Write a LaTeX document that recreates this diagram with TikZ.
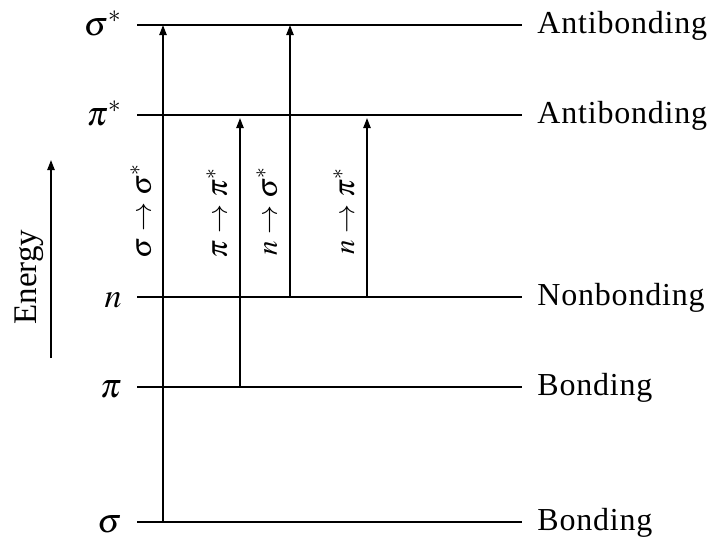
\documentclass[tikz,border=0pt]{standalone}
\usepackage{mathptmx}
\usepackage{fontspec}
\setmainfont{Liberation Serif}
\usetikzlibrary{arrows.meta}
\tikzset{
  level/.style={line width=1pt},
  trans/.style={line width=0.9pt,-{Triangle[length=5pt,width=3.6pt]}},
  rlab/.style={anchor=base west,inner sep=0pt,font=\fontsize{16}{18}\selectfont\addfontfeature{LetterSpace=2.5}},
  llab/.style={anchor=base east,inner sep=0pt,font=\fontsize{17}{19}\selectfont},
  tlab/.style={rotate=90,inner sep=0pt,font=\fontsize{14.5}{16}\selectfont},
  elab/.style={rotate=90,inner sep=0pt,font=\fontsize{16.5}{18}\selectfont}
}
\begin{document}
\begin{tikzpicture}[x=0.5pt,y=-0.5pt]
\useasboundingbox (0,0) rectangle (712,537);
% level lines
\foreach \nm/\yy in {ss/25,ps/115,nn/297,pp/387,sg/522}{
  \coordinate (\nm L) at (137,\yy);
  \coordinate (\nm R) at (522,\yy);
  \draw[level] (\nm L) -- (\nm R);
}
% left labels
\node[llab] (lss) at (122,35) {$\sigma^*$};
\node[llab] (lps) at (122,125) {$\pi^*$};
\node[llab] (lnn) at (122,307) {$n$};
\node[llab] (lpp) at (122,397) {$\pi$};
\node[llab] (lsg) at (122,532) {$\sigma$};
% right labels
\node[rlab] (rss) at (537,33) {Antibonding};
\node[rlab] (rps) at (537,123) {Antibonding};
\node[rlab] (rnn) at (537,305) {Nonbonding};
\node[rlab] (rpp) at (537,395) {Bonding};
\node[rlab] (rsg) at (537,530) {Bonding};
% transition arrows
\coordinate (a1s) at (163,522); \coordinate (a1e) at (163,25);
\coordinate (a2s) at (240,387); \coordinate (a2e) at (240,118);
\coordinate (a3s) at (290,297); \coordinate (a3e) at (290,25);
\coordinate (a4s) at (367,297); \coordinate (a4e) at (367,118);
\draw[trans] (a1s) -- (a1e);
\draw[trans] (a2s) -- (a2e);
\draw[trans] (a3s) -- (a3e);
\draw[trans] (a4s) -- (a4e);
% transition labels
\node[tlab] (t1) at (141,211) {$\sigma\rightarrow\sigma^*$};
\node[tlab] (t2) at (217,213) {$\pi\rightarrow\pi^*$};
\node[tlab] (t3) at (267,211) {$n\rightarrow\sigma^*$};
\node[tlab] (t4) at (344,211) {$n\rightarrow\pi^*$};
% energy axis
\coordinate (e0) at (51,358);
\coordinate (e1) at (51,160);
\draw[trans] (e0) -- (e1);
\node[elab] (en) at (29,277) {Energy};
\end{tikzpicture}
\end{document}
